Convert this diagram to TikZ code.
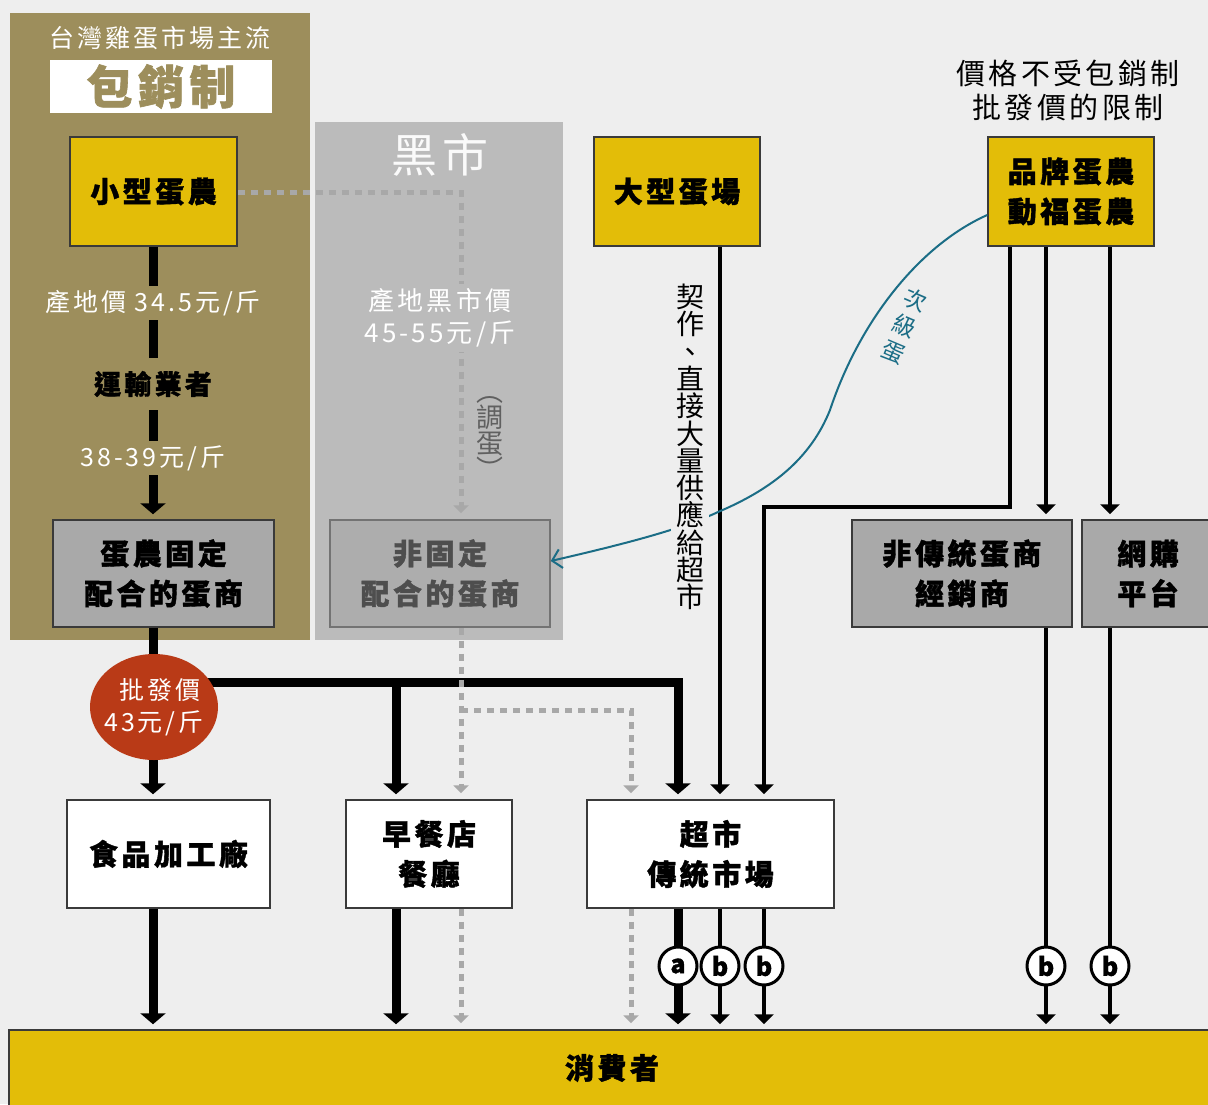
\documentclass[tikz,border=0pt]{standalone}
\usepackage{fontspec}
\setmainfont{Noto Sans CJK TC}[BoldFeatures={FakeBold=1.3}]
\newfontfamily\cj{Noto Sans CJK TC}[LetterSpace=12,BoldFeatures={FakeBold=1.3}]
\usetikzlibrary{arrows.meta,shapes.geometric}
\definecolor{bg}{HTML}{EEEEEE}
\definecolor{cOlive}{HTML}{9D8E5C}
\definecolor{bmkt}{HTML}{BBBBBB}
\definecolor{egg}{HTML}{E3BD08}
\definecolor{gboxc}{HTML}{A9A9A9}
\definecolor{gboxd}{HTML}{ADADAD}
\definecolor{edge}{HTML}{3A3A3A}
\definecolor{dotc}{HTML}{A8A8A8}
\definecolor{redc}{HTML}{B93A17}
\definecolor{cTeal}{HTML}{1B6D86}
\definecolor{dimtext}{HTML}{4E4E4E}
\newcommand\myfs[1]{\fontsize{#1}{#1}\selectfont}
\tikzset{
  box/.style={draw=edge,line width=1.5pt,inner sep=0pt,align=center,font=\cj\bfseries\fontsize{29}{40}\selectfont},
  ybox/.style={box,fill=egg},
  gbx/.style={box,fill=gboxc},
  wbox/.style={box,fill=white},
  hvy/.style={line width=9pt,-{Triangle[width=25pt,length=11pt]},shorten >=5pt},
  lit/.style={line width=4.5pt,-{Triangle[width=19pt,length=10pt]},shorten >=5pt},
  dotl/.style={dotc,line width=5pt,dash pattern=on 7pt off 6pt,-{Triangle[width=15pt,length=8pt]},shorten >=6pt},
  tag/.style={circle,draw=black,line width=3pt,fill=white,minimum size=38pt,inner sep=0pt,font=\bfseries\myfs{25}},
}
\begin{document}
\begin{tikzpicture}[x=1pt,y=-1pt]
\fill[bg] (0,0) rectangle (1208,1104);
\useasboundingbox (0,0) rectangle (1208,1104);
% panels
\fill[cOlive] (10,13) rectangle (310,640);
\fill[bmkt] (315,122) rectangle (563,640);
\node[text=white,font=\cj\myfs{25}] (hd1) at (160,38) {台灣雞蛋市場主流};
\node[fill=white,minimum width=222pt,minimum height=53pt,inner sep=0pt,text=cOlive,font=\cj\bfseries\myfs{46}] (hd2) at (161,86.5) {包銷制};
\node[text=white!92!bmkt,font=\cj\myfs{46}] (hd3) at (440,155) {黑市};
\node[align=center,font=\cj\fontsize{29}{34}\selectfont] (hd4) at (1068,90) {價格不受包銷制\\批發價的限制};
% boxes
\node[ybox,minimum width=167pt,minimum height=109pt] (small) at (153.5,191.5) {小型蛋農};
\node[ybox,minimum width=166pt,minimum height=109pt] (big) at (677,191.5) {大型蛋場};
\node[ybox,minimum width=166pt,minimum height=109pt] (brand) at (1071,191.5) {品牌蛋農\\動福蛋農};
\node[gbx,minimum width=221pt,minimum height=107pt] (fixed) at (163.5,573.5) {蛋農固定\\配合的蛋商};
\node[box,fill=gboxd,draw=gray!90!black,text=dimtext,minimum width=220pt,minimum height=107pt] (nonfixed) at (440,573.5) {非固定\\配合的蛋商};
\node[gbx,minimum width=220pt,minimum height=107pt] (nontrad) at (962,573.5) {非傳統蛋商\\經銷商};
\node[gbx,minimum width=132pt,minimum height=107pt] (online) at (1148,573.5) {網購\\平台};
\node[wbox,minimum width=203pt,minimum height=108pt] (food) at (168.5,854) {食品加工廠};
\node[wbox,minimum width=166pt,minimum height=108pt] (breakfast) at (429,854) {早餐店\\餐廳};
\node[wbox,minimum width=247pt,minimum height=108pt] (market) at (710.5,854) {超市\\傳統市場};
\node[ybox,minimum width=1210pt,minimum height=82pt] (consumer) at (614,1071) {};
\node[font=\cj\bfseries\myfs{29}] (constext) at (612,1068) {消費者};
% tap coordinates
\coordinate (cx) at (153,0);
\coordinate (hA) at (678,682);
\coordinate (hB) at (396,682);
\coordinate (v1) at (720,0);
\coordinate (v2) at (764,507);
\coordinate (v3) at (1010,507);
\coordinate (v4) at (1046,0);
\coordinate (v5) at (1110,0);
\coordinate (bm) at (461,192);
\coordinate (bj) at (461,710);
\coordinate (bk) at (631,710);
% heavy black flows
\draw[hvy] (cx |- small.south) -- (cx |- fixed.north);
\draw[hvy] (cx |- fixed.south) -- (cx |- food.north);
\draw[hvy] (cx |- hA) -- (hA) -- (hA |- market.north);
\draw[hvy] (hB) -- (hB |- breakfast.north);
\draw[hvy] (cx |- food.south) -- (cx |- consumer.north);
\draw[hvy] (hB |- breakfast.south) -- (hB |- consumer.north);
\draw[hvy] (hA |- market.south) -- (hA |- consumer.north);
% thin black flows
\draw[lit] (v1 |- big.south) -- (v1 |- market.north);
\draw[lit] (v3 |- brand.south) -- (v3) -- (v2) -- (v2 |- market.north);
\draw[lit] (v4 |- brand.south) -- (v4 |- nontrad.north);
\draw[lit] (v5 |- brand.south) -- (v5 |- online.north);
\draw[lit] (v1 |- market.south) -- (v1 |- consumer.north);
\draw[lit] (v2 |- market.south) -- (v2 |- consumer.north);
\draw[lit] (v4 |- nontrad.south) -- (v4 |- consumer.north);
\draw[lit] (v5 |- online.south) -- (v5 |- consumer.north);
% dotted grey flows
\draw[dotl] (small.east |- bm) -- (bm) -- (bm |- nonfixed.north);
\draw[dotl] (bm |- nonfixed.south) -- (bm |- breakfast.north);
\draw[dotl] (bj) -- (bk) -- (bk |- market.north);
\draw[dotl] (bm |- breakfast.south) -- (bm |- consumer.north);
\draw[dotl] (bk |- market.south) -- (bk |- consumer.north);
% price ellipse
\node[ellipse,fill=redc,minimum width=128pt,minimum height=106pt,inner sep=0pt] (price) at (154,707) {};
\node[text=white,align=center,inner sep=0pt,font=\cj\fontsize{25}{32}\selectfont] (pricetext) at (price.center) {\hspace*{12pt}批發價\\43元/斤};
% labels on the small-farm line
\node[fill=cOlive,text=white,font=\cj\myfs{25},inner xsep=3pt,inner ysep=4pt] (lp1) at (153,303) {產地價 34.5元/斤};
\node[fill=cOlive,font=\cj\bfseries\myfs{27},inner xsep=3pt,inner ysep=13pt] (lp2) at (153,384) {運輸業者};
\node[fill=cOlive,text=white,font=\cj\myfs{25},inner xsep=3pt,inner ysep=4pt] (lp3) at (153,458) {38-39元/斤};
\node[fill=bmkt,text=white,font=\cj\fontsize{26}{32}\selectfont,align=center,inner xsep=3pt,inner ysep=5pt] (lp4) at (440,318) {產地黑市價\\45-55元/斤};
\node[text=gray!75!black,font=\fontsize{27}{26}\selectfont,align=center,inner sep=0pt] (lp5) at (490,438) {︵\\調\\蛋\\︶};
% secondary eggs curve
\coordinate (c0) at (brand.west |- 0,215);
\coordinate (c1) at (nonfixed.east |- 0,561);
\draw[cTeal,line width=2pt,-{Straight Barb[length=9pt,width=19pt]}] (c0) .. controls (920,245) and (860,320) .. (830,410) .. controls (810,460) and (770,490) .. (718,512) .. controls (680,530) and (620,545) .. (c1);
\node[text=cTeal,rotate=-23,font=\fontsize{23}{28}\selectfont,align=center,inner sep=0pt] (lp6) at (904,326) {次\\級\\蛋};
\node[fill=bg,inner xsep=5pt,inner ysep=2pt,align=center,font=\fontsize{28}{27.3}\selectfont] (vt) at (690,447) {契\\作\\、\\直\\接\\大\\量\\供\\應\\給\\超\\市};
% letter tags
\node[tag] (ta) at (hA |- 0,966) {a};
\node[tag] (tb1) at (v1 |- 0,966) {b};
\node[tag] (tb2) at (v2 |- 0,966) {b};
\node[tag] (tb3) at (v4 |- 0,966) {b};
\node[tag] (tb4) at (v5 |- 0,966) {b};
\end{tikzpicture}
\end{document}
